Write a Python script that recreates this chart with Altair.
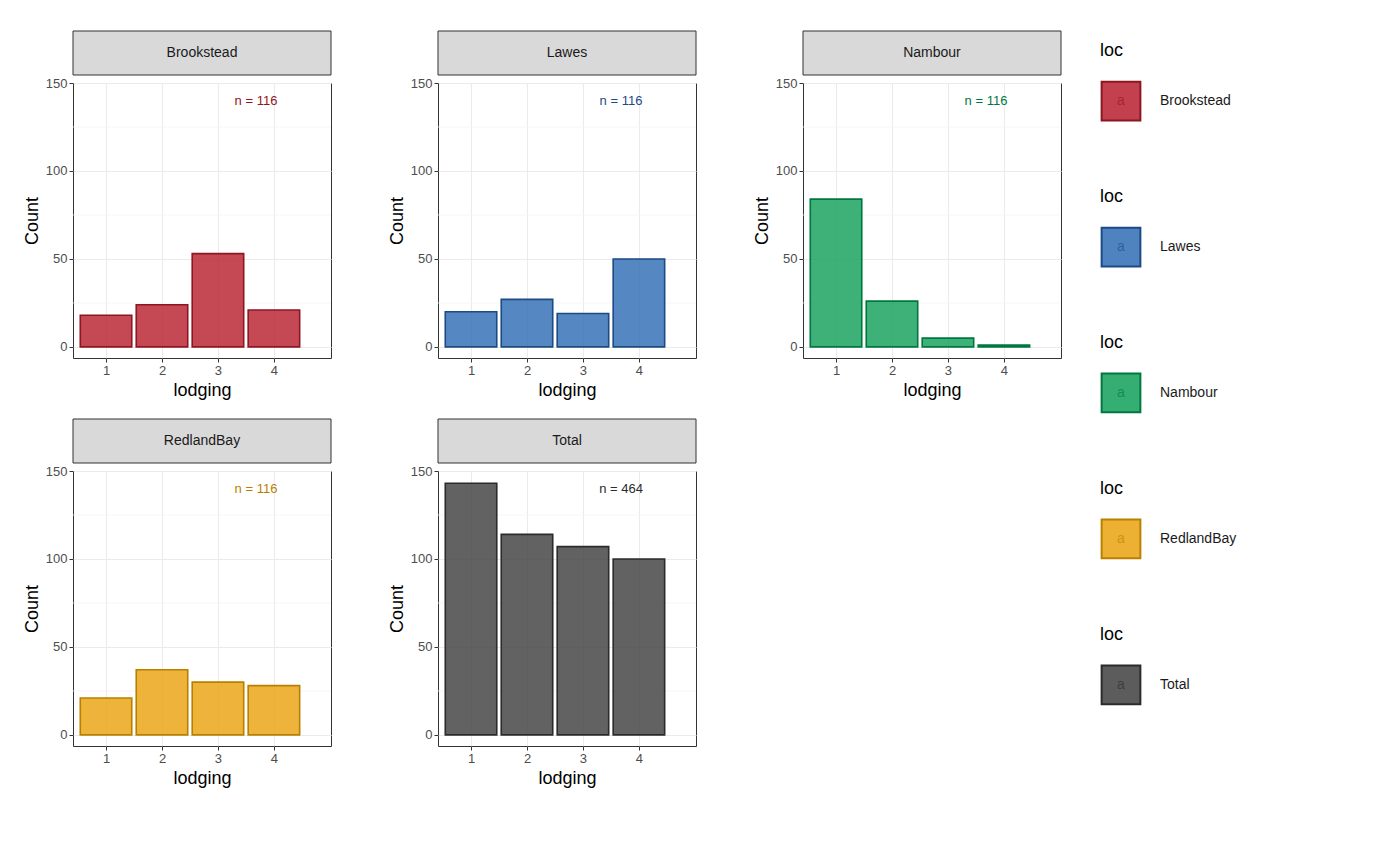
import altair as alt
import pandas as pd

locs = ["Brookstead", "Lawes", "Nambour", "RedlandBay", "Total"]
lodging = [1, 2, 3, 4]
counts = {
    "Brookstead": [18, 24, 53, 21],
    "Lawes": [20, 27, 19, 50],
    "Nambour": [84, 26, 5, 1],
    "RedlandBay": [21, 37, 30, 28],
    "Total": [143, 114, 107, 100],
}
n_labels = ["n = 116", "n = 116", "n = 116", "n = 116", "n = 464"]
fills = ["#B8202F", "#2F6DB5", "#12A05A", "#E9A20F", "#404040"]
borders = ["#8E1522", "#1C4A85", "#00773F", "#B98000", "#2B2B2B"]
minor_ticks = [25, 75, 125]

FONT = "Liberation Sans"
W, H, SH = 258, 275, 44


def panel(i):
    loc = locs[i]
    df = pd.DataFrame({"lodging": lodging, "Count": counts[loc], "loc": loc})
    xs = alt.Scale(domain=[0.41, 5.02], nice=False, zero=False)
    ys = alt.Scale(domain=[-6.3, 150], nice=False, zero=False)
    minor = alt.Chart(pd.DataFrame({"v": minor_ticks})).mark_rule(
        color="#F4F4F4", strokeWidth=0.8
    ).encode(y=alt.Y("v:Q", scale=ys))
    bars = alt.Chart(df).transform_calculate(
        x0="datum.lodging - 0.46", x1="datum.lodging + 0.46"
    ).mark_bar(fillOpacity=0.82, fill=fills[i], stroke=borders[i], strokeWidth=1.6).encode(
        x=alt.X("x0:Q", scale=xs, title="lodging",
                axis=alt.Axis(values=lodging, format="d", labelColor="#4D4D4D")),
        x2="x1:Q",
        y=alt.Y("Count:Q", scale=ys, title="Count",
                axis=alt.Axis(values=[0, 50, 100, 150], labelColor="#4D4D4D")),
        y2=alt.datum(0),
    )
    txt = alt.Chart(pd.DataFrame({"x": [3.68], "y": [140], "t": [n_labels[i]]})).mark_text(
        fontSize=13, font=FONT, color=borders[i]
    ).encode(x=alt.X("x:Q", scale=xs), y=alt.Y("y:Q", scale=ys), text="t:N")
    p = alt.layer(minor, bars, txt).properties(width=W, height=H)
    strip = alt.layer(
        alt.Chart(alt.Data(values=[{"a": 1}])).mark_rect(
            fill="#D9D9D9", stroke="#333333", strokeWidth=1
        ).encode(x=alt.value(0), x2=alt.value(W), y=alt.value(0), y2=alt.value(SH)),
        alt.Chart(alt.Data(values=[{"a": 1}])).mark_text(
            fontSize=14, font=FONT, color="#1A1A1A"
        ).encode(x=alt.value(W / 2), y=alt.value(SH / 2), text=alt.value(loc)),
    ).properties(width=W, height=SH, view=alt.ViewConfig(stroke=None))
    return alt.vconcat(strip, p, spacing=0)


# manual legend
leg = pd.DataFrame({"idx": list(range(5)), "loc": locs, "fill": fills, "border": borders})
LH = 740
ly = alt.Scale(domain=[-0.48, 4.59], range=[0, LH], nice=False, zero=False)
lx = alt.Scale(domain=[0, 1], range=[0, 200])
base = alt.Chart(leg).encode(y=alt.Y("idx:Q", scale=ly, axis=None))
sq = base.mark_square(size=1500, fillOpacity=0.85, strokeWidth=2).encode(
    x=alt.value(21), fill=alt.Fill("fill:N", scale=None), stroke=alt.Stroke("border:N", scale=None))
lbl = base.mark_text(align="left", fontSize=14, font=FONT, color="#1A1A1A").encode(
    x=alt.value(60), text="loc:N")
ttl = base.mark_text(align="left", fontSize=18, font=FONT, color="#000000", dy=-50).encode(
    x=alt.value(0), text=alt.value("loc"))
letter = base.mark_text(fontSize=14, font=FONT, opacity=0.6).encode(
    x=alt.value(21), text=alt.value("a"), color=alt.Color("border:N", scale=None))
legend = alt.layer(sq, letter, lbl, ttl).properties(
    width=200, height=LH, view=alt.ViewConfig(stroke=None))

row1 = alt.hconcat(panel(0), panel(1), panel(2), spacing=55)
row2 = alt.hconcat(panel(3), panel(4), spacing=55)
grid = alt.vconcat(row1, row2, spacing=18)
chart = alt.hconcat(grid, legend, spacing=35).configure(
    font=FONT
).configure_view(stroke="#333333", strokeWidth=1).configure_axis(
    gridColor="#EBEBEB", gridWidth=1.1, domain=False, tickColor="#333333",
    labelColor="#4D4D4D", labelFontSize=13, titleFontSize=18, titleColor="#000000",
    titleFontWeight="normal", labelFont=FONT, titleFont=FONT, tickSize=4
).properties(padding={"left": 14, "top": 22, "right": 0, "bottom": 0})

chart.save("out.html", embed_options={"renderer": "svg", "actions": False})
